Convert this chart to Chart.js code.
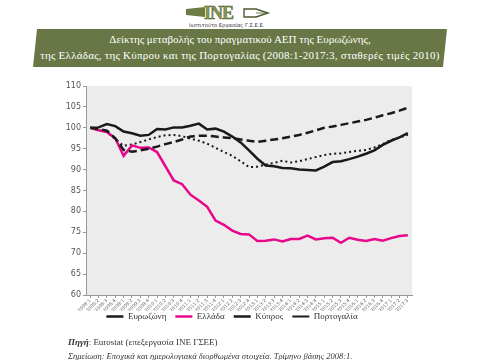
<!DOCTYPE html>
<html lang="el">
<head>
<meta charset="UTF-8">
<title>Δείκτης μεταβολής ΑΕΠ</title>
<script src="https://cdn.jsdelivr.net/npm/chart.js"></script>
<style>
  body { margin: 0; width: 480px; height: 360px; overflow: hidden; background: #fff; position: relative; font-family: "Liberation Serif", serif; }
  #logo { position: absolute; left: 186px; top: 3px; }
  #banner { position: absolute; left: 35px; top: 29px; width: 410px; height: 38px; background: #687745; transform: skewX(-6deg); }
  #bannerText { position: absolute; left: 20px; top: 31px; width: 440px; text-align: center; color: #fff; font-size: 11px; line-height: 16px; white-space: nowrap; }
  #chartBox { position: absolute; left: 0; top: 0; width: 480px; height: 340px; }
  .note { position: absolute; left: 68px; font-size: 9px; color: #333; white-space: nowrap; }
</style>
</head>
<body>
<svg id="logo" width="92" height="28" viewBox="0 0 92 28">
  <polygon points="0,6 19,4 19,14 0,12" fill="#6d7b46"/>
  <text x="18" y="16" font-family="Liberation Serif" font-weight="bold" font-size="18" fill="#8a9857" stroke="#4d5a2c" stroke-width="0.5" letter-spacing="-1">INE</text>
  <polygon points="58,6 70,6 82,10 70,14 58,14" fill="#fff" stroke="#4d5a2c" stroke-width="1.4"/>
  <line x1="70" y1="10" x2="82" y2="10" stroke="#4d5a2c" stroke-width="0.8"/>
  <text x="3" y="24" font-family="DejaVu Sans" font-size="5.2" fill="#333">Ινστιτούτο Εργασίας Γ.Σ.Ε.Ε.</text>
</svg>
<div id="banner"></div>
<div id="bannerText">Δείκτης μεταβολής του πραγματικού ΑΕΠ της Ευρωζώνης,<br><span style="letter-spacing:0.25px">της Ελλάδας, της Κύπρου και της Πορτογαλίας (2008:1-2017:3, σταθερές τιμές 2010)</span></div>
<div id="chartBox"><canvas id="gdpChart" width="480" height="340"></canvas></div>
<div class="note" style="top:337px"><b><i>Πηγή</i></b>: Eurostat (επεξεργασία ΙΝΕ ΓΣΕΕ)</div>
<div class="note" style="top:351px; font-style:italic; font-size:8.5px">Σημείωση: Εποχικά και ημερολογιακά διορθωμένα στοιχεία. Τρίμηνο βάσης 2008:1.</div>
<script>
const quarters = [];
for (let y = 2008; y <= 2017; y++) {
  for (let q = 1; q <= 4; q++) {
    if (y === 2017 && q > 3) break;
    quarters.push(y + ":" + q);
  }
}

const eurozone = [100, 99.7, 99.3, 97.5, 94.7, 94.3, 94.6, 95.0, 95.5, 96.1,
  96.6, 97.2, 97.9, 98.1, 98.1, 97.9, 97.7, 97.5, 97.2, 96.9,
  96.6, 96.9, 97.2, 97.5, 97.9, 98.3, 98.8, 99.4, 100.0, 100.3,
  100.7, 101.1, 101.5, 101.9, 102.4, 103.0, 103.5, 104.1, 104.8];
const greece = [100, 99.4, 99.0, 97.5, 93.3, 95.8, 95.2, 95.3, 94.2, 90.8,
  87.4, 86.5, 84.0, 82.6, 81.1, 77.8, 76.8, 75.4, 74.6, 74.5,
  72.9, 73.0, 73.3, 72.8, 73.4, 73.4, 74.2, 73.3, 73.6, 73.7,
  72.5, 73.7, 73.2, 72.9, 73.4, 73.0, 73.6, 74.1, 74.3];
const cyprus = [100, 100.1, 100.9, 100.4, 99.1, 98.7, 98.1, 98.3, 99.7, 99.6,
  100.1, 100.1, 100.5, 101.0, 99.6, 99.8, 99.1, 97.9, 96.5, 94.6,
  92.6, 91.0, 90.8, 90.4, 90.3, 90.0, 89.9, 89.8, 90.7, 91.8,
  92.0, 92.5, 93.1, 93.8, 94.6, 95.9, 96.9, 97.7, 98.7];
const portugal = [100, 99.5, 98.9, 97.3, 95.7, 96.0, 96.6, 97.2, 97.8, 98.2,
  98.3, 98.0, 97.4, 96.9, 96.2, 95.2, 94.2, 93.3, 92.0, 90.6,
  90.7, 91.2, 91.6, 92.1, 91.7, 92.0, 92.5, 93.0, 93.5, 93.8,
  93.9, 94.2, 94.5, 94.7, 95.3, 96.1, 97.1, 97.7, 98.3];

const plotBg = {
  id: 'plotBg',
  beforeDraw(chart) {
    const { ctx, chartArea: a } = chart;
    ctx.save();
    ctx.fillStyle = '#ececec';
    ctx.fillRect(a.left, a.top, a.width, a.height);
    ctx.restore();
  }
};

// pull the legend up a bit, closer to the rotated quarter labels
const legendUp = {
  id: 'legendUp',
  afterLayout(chart) {
    chart.legend.top -= 8;
    chart.legend.bottom -= 8;
  }
};

new Chart(document.getElementById("gdpChart"), {
  type: 'line',
  data: {
    labels: quarters,
    datasets: [
      { label: "Ευρωζώνη", data: eurozone, borderColor: "#1a1a1a", borderWidth: 2.5, borderDash: [8, 4] },
      { label: "Ελλάδα", data: greece, borderColor: "#e8078a", borderWidth: 2.5 },
      { label: "Κύπρος", data: cyprus, borderColor: "#1a1a1a", borderWidth: 2.5 },
      { label: "Πορτογαλία", data: portugal, borderColor: "#1a1a1a", borderWidth: 2, borderDash: [2, 3] }
    ]
  },
  options: {
    responsive: false,
    animation: false,
    elements: { point: { radius: 0 }, line: { tension: 0 } },
    layout: { padding: { left: 52, top: 86, right: 68, bottom: 1 } },
    scales: {
      x: {
        offset: true,
        afterFit: s => { s.height = 16; },
        grid: { drawOnChartArea: false, tickLength: 3, color: '#999' },
        border: { color: '#999' },
        ticks: { autoSkip: false, maxRotation: 45, minRotation: 45, padding: 0, color: '#666', font: { family: 'DejaVu Sans', size: 4.6 } }
      },
      y: {
        min: 60, max: 110,
        afterFit: s => { s.width = 34; },
        grid: { drawOnChartArea: false, tickLength: 3, color: '#999' },
        border: { color: '#999' },
        ticks: { stepSize: 5, padding: 2, color: '#555', font: { family: 'DejaVu Sans', size: 8 } }
      }
    },
    plugins: {
      tooltip: { enabled: false },
      legend: {
        position: 'bottom',
        labels: {
          usePointStyle: true,
          pointStyle: 'line',
          pointStyleWidth: 17,
          boxHeight: 6,
          padding: 9,
          color: '#333',
          font: { family: 'Liberation Serif', size: 9 }
        }
      }
    }
  },
  plugins: [plotBg, legendUp]
});
</script>
</body>
</html>
